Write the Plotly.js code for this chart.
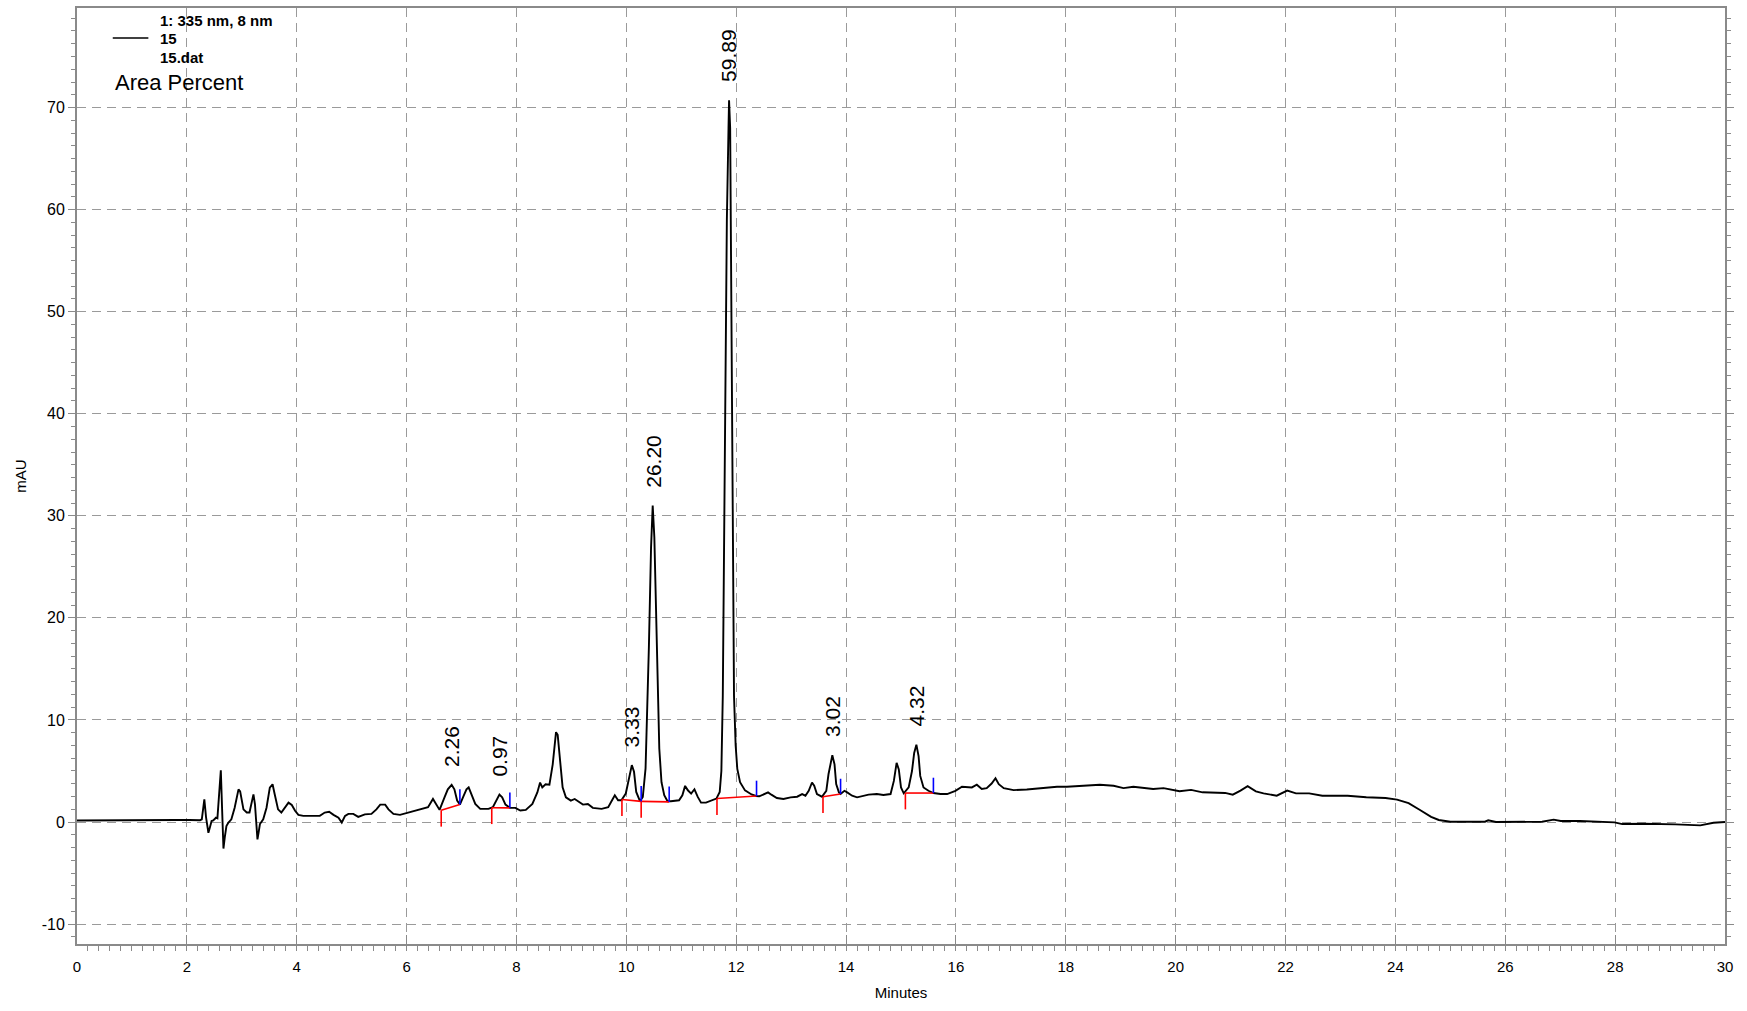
<!DOCTYPE html>
<html>
<head>
<meta charset="utf-8">
<script src="https://cdn.plot.ly/plotly-3.0.1.min.js"></script>
<style>html,body{margin:0;padding:0;background:#fff;}#chart{width:1747px;height:1011px;}</style>
</head>
<body>
<div id="chart"></div>
<script>
// Retention time (minutes) and detector signal (mAU)
const time = [
  0.00,0.30,0.60,0.90,1.20,1.50,1.80,2.05,2.24,2.272,2.30,2.318,2.35,2.392,2.42,2.45,2.48,2.53,2.556,2.59,
  2.618,2.64,2.666,2.69,2.72,2.757,2.81,2.87,2.94,2.97,3.03,3.09,3.14,3.212,3.24,3.26,3.285,3.31,3.33,3.39,
  3.45,3.51,3.56,3.60,3.66,3.72,3.78,3.85,3.91,3.97,4.03,4.12,4.30,4.42,4.51,4.59,4.67,4.76,4.82,4.88,
  4.94,5.03,5.12,5.24,5.36,5.45,5.52,5.61,5.67,5.76,5.88,6.05,6.23,6.39,6.48,6.53,6.60,6.69,6.75,6.82,
  6.87,6.92,6.97,7.04,7.09,7.13,7.18,7.25,7.34,7.49,7.57,7.64,7.69,7.74,7.80,7.88,7.98,8.07,8.17,8.29,
  8.38,8.43,8.47,8.53,8.60,8.66,8.72,8.75,8.80,8.84,8.90,8.99,9.06,9.12,9.21,9.30,9.39,9.55,9.67,9.74,
  9.79,9.85,9.91,9.99,10.05,10.10,10.14,10.18,10.25,10.30,10.35,10.38,10.41,10.45,10.48,10.51,10.54,10.57,10.60,10.64,
  10.69,10.75,10.81,10.96,11.02,11.07,11.12,11.18,11.24,11.30,11.36,11.45,11.57,11.64,11.70,11.73,11.756,11.775,11.80,11.83,
  11.86,11.87,11.89,11.90,11.92,11.94,11.96,11.99,12.02,12.07,12.16,12.28,12.36,12.42,12.52,12.58,12.64,12.74,12.86,12.99,
  13.11,13.20,13.26,13.32,13.38,13.42,13.47,13.56,13.64,13.68,13.75,13.79,13.82,13.87,13.90,13.97,14.02,14.11,14.20,14.29,
  14.41,14.56,14.68,14.81,14.87,14.92,14.96,15.00,15.05,15.14,15.20,15.24,15.28,15.32,15.35,15.41,15.50,15.59,15.72,15.84,
  15.93,15.99,16.11,16.20,16.29,16.38,16.47,16.56,16.65,16.72,16.78,16.87,17.05,17.29,17.59,17.84,18.02,18.26,18.62,18.87,
  19.05,19.23,19.41,19.59,19.78,19.96,20.07,20.28,20.49,20.90,21.04,21.18,21.31,21.46,21.60,21.84,22.03,22.19,22.43,22.67,
  23.13,23.47,23.82,24.03,24.24,24.44,24.65,24.79,25.00,25.63,25.69,25.83,26.67,26.88,27.01,27.36,27.99,28.13,28.54,29.10,
  29.55,29.79,30.00
];
const signal = [
  0.15,0.17,0.18,0.20,0.20,0.22,0.20,0.20,0.18,0.26,1.40,2.22,0.42,-1.05,-0.50,0.10,0.15,0.42,0.36,2.50,
  5.07,1.50,-2.60,-1.50,-0.40,-0.05,0.26,1.40,3.20,3.00,1.24,0.93,0.93,2.71,1.73,0.20,-1.70,-0.90,-0.20,0.26,
  1.40,3.37,3.70,2.70,1.24,0.93,1.40,1.90,1.67,1.10,0.70,0.60,0.60,0.60,0.93,1.00,0.70,0.42,-0.05,0.60,
  0.80,0.80,0.50,0.75,0.80,1.24,1.70,1.70,1.24,0.80,0.70,0.97,1.19,1.45,2.26,1.77,1.19,2.42,3.20,3.65,
  3.20,2.10,1.71,2.58,3.20,3.39,2.74,1.77,1.29,1.29,1.45,2.26,2.68,2.42,1.71,1.39,1.39,1.13,1.19,1.77,
  2.90,3.87,3.39,3.70,3.65,5.65,8.80,8.55,5.65,3.39,2.42,2.10,2.26,2.03,1.71,1.77,1.39,1.29,1.45,2.13,
  2.62,2.13,2.13,2.79,4.43,5.57,4.92,2.95,2.03,2.46,5.25,10.50,17.05,26.90,31.00,27.90,20.30,12.80,7.20,3.90,
  2.62,2.03,2.03,2.13,2.62,3.54,3.11,2.79,3.21,2.46,1.90,1.90,2.13,2.30,2.95,5.00,12.40,26.00,40.00,59.00,
  68.00,70.70,68.00,59.00,40.00,26.00,12.40,7.50,5.20,3.90,3.10,2.70,2.55,2.52,2.74,2.90,2.68,2.35,2.26,2.42,
  2.48,2.74,2.58,3.06,3.87,3.55,2.74,2.48,3.06,4.68,6.55,5.65,3.71,2.90,2.74,3.06,2.90,2.58,2.42,2.55,
  2.68,2.74,2.65,2.74,4.03,5.80,5.16,3.39,2.81,3.39,5.00,6.77,7.58,6.45,4.52,3.39,3.06,2.84,2.74,2.74,
  2.90,3.06,3.45,3.39,3.39,3.65,3.23,3.32,3.77,4.29,3.71,3.32,3.13,3.19,3.32,3.45,3.45,3.55,3.65,3.55,
  3.32,3.45,3.32,3.23,3.32,3.13,3.01,3.15,2.91,2.85,2.68,3.08,3.51,3.01,2.81,2.58,3.08,2.81,2.81,2.58,
  2.58,2.42,2.35,2.20,1.85,1.20,0.50,0.20,0.03,0.03,0.17,0.00,0.03,0.23,0.10,0.10,-0.03,-0.20,-0.17,-0.23,
  -0.33,-0.07,0.00
];

// Integrated peaks: area percent, start/end times and baseline levels
const areaPercent = ["2.26", "0.97", "3.33", "26.20", "59.89", "3.02", "4.32"];
const peakStart   = [6.63, 7.55, 9.92, 10.27, 11.65, 13.58, 15.08];
const peakEnd     = [6.97, 7.88, 10.27, 10.78, 12.37, 13.90, 15.59];
const startLevel  = [1.15, 1.40, 2.20, 2.02, 2.30, 2.48, 2.84];
const endLevel    = [1.71, 1.39, 2.02, 1.97, 2.55, 2.74, 2.84];

// Axis tick labels
const yTickVals = [-10, 0, 10, 20, 30, 40, 50, 60, 70];
const yTickText = ["-10", "0", "10", "20", "30", "40", "50", "60", "70"];

// Legend / header text
const legendLines = ["1: 335 nm, 8 nm", "15", "15.dat"];
const reportTitle = "Area Percent";

// ---------- build traces ----------
const RED_TICK = 1.6, BLUE_TICK = 1.5;
const redX = [], redY = [], blueX = [], blueY = [];
for (let i = 0; i < peakStart.length; i++) {
  redX.push(peakStart[i], peakStart[i], null, peakStart[i], peakEnd[i], null);
  redY.push(startLevel[i], startLevel[i] - RED_TICK, null, startLevel[i], endLevel[i], null);
  blueX.push(peakEnd[i], peakEnd[i], null);
  blueY.push(endLevel[i], endLevel[i] + BLUE_TICK, null);
}

const traces = [
  {x: time, y: signal, type: 'scatter', mode: 'lines',
   line: {color: '#000', width: 1.9}, hoverinfo: 'x+y', name: '15'},
  {x: redX, y: redY, type: 'scatter', mode: 'lines',
   line: {color: '#ff0000', width: 1.6}, hoverinfo: 'skip', connectgaps: false},
  {x: blueX, y: blueY, type: 'scatter', mode: 'lines',
   line: {color: '#0000ff', width: 1.6}, hoverinfo: 'skip', connectgaps: false}
];

// ---------- peak labels (placed above the apex of each integrated peak) ----------
const annotations = [];
for (let i = 0; i < peakStart.length; i++) {
  let best = -Infinity, bt = peakStart[i];
  for (let k = 0; k < time.length; k++) {
    if (time[k] >= peakStart[i] && time[k] <= peakEnd[i] && signal[k] > best) {
      best = signal[k]; bt = time[k];
    }
  }
  annotations.push({
    x: bt, y: best, xref: 'x', yref: 'y', text: areaPercent[i],
    showarrow: false, textangle: -90, xanchor: 'center', yanchor: 'bottom',
    yshift: 16, font: {family: 'Liberation Sans, Arial, sans-serif', size: 21, color: '#000'}
  });
}

// header legend text
const legY = [0.9867, 0.9674, 0.9475];
legendLines.forEach((t, i) => annotations.push({
  x: 0.0492, y: legY[i], xref: 'paper', yref: 'paper', text: '<b>' + t + '</b>',
  showarrow: false, xanchor: 'left', yanchor: 'middle',
  font: {family: 'Liberation Sans, Arial, sans-serif', size: 15, color: '#000'}
}));
annotations.push({
  x: 0.0216, y: 0.9200, xref: 'paper', yref: 'paper', text: reportTitle,
  showarrow: false, xanchor: 'left', yanchor: 'middle',
  font: {family: 'Liberation Sans, Arial, sans-serif', size: 22, color: '#000'}
});

const axisGray = '#8a8a8a';
const layout = {
  width: 1747, height: 1011,
  margin: {l: 77, r: 22, t: 8, b: 67, pad: 0},
  paper_bgcolor: '#fff', plot_bgcolor: '#fff',
  showlegend: false,
  font: {family: 'Liberation Sans, Arial, sans-serif', color: '#000', size: 15},
  xaxis: {
    range: [0, 30], tick0: 0, dtick: 2,
    showgrid: true, gridcolor: '#9a9a9a', gridwidth: 1, griddash: '9px,6px',
    zeroline: false, showline: true, linecolor: axisGray, linewidth: 2, mirror: true,
    ticks: 'inside', ticklen: 9, tickwidth: 1, tickcolor: axisGray,
    minor: {dtick: 0.2, ticks: 'outside', ticklen: 5, tickwidth: 1, tickcolor: axisGray, showgrid: false},
    tickfont: {size: 15, color: '#000'}, ticklabelstandoff: 8,
    title: {text: 'Minutes', font: {size: 15, color: '#000'}, standoff: 13}
  },
  yaxis: {
    range: [-11.95, 79.75], tickmode: 'array', tickvals: yTickVals, ticktext: yTickText,
    showgrid: true, gridcolor: '#9a9a9a', gridwidth: 1, griddash: '9px,6px',
    zeroline: false, showline: true, linecolor: axisGray, linewidth: 2, mirror: 'ticks',
    ticks: 'outside', ticklen: 7, tickwidth: 1, tickcolor: axisGray,
    minor: {tickmode: 'linear', tick0: 0, dtick: 1.25, ticks: 'outside', ticklen: 4, tickwidth: 1, tickcolor: axisGray, showgrid: false},
    tickfont: {size: 16, color: '#000'},
    title: {text: 'mAU', font: {size: 15, color: '#000'}, standoff: 11}
  },
  shapes: [
    {type: 'line', xref: 'paper', yref: 'paper', x0: 0.0217, x1: 0.0433, y0: 0.9680, y1: 0.9680,
     line: {color: '#000', width: 1.5}}
  ],
  annotations: annotations
};

Plotly.newPlot('chart', traces, layout, {staticPlot: true, displayModeBar: false});
</script>
</body>
</html>
